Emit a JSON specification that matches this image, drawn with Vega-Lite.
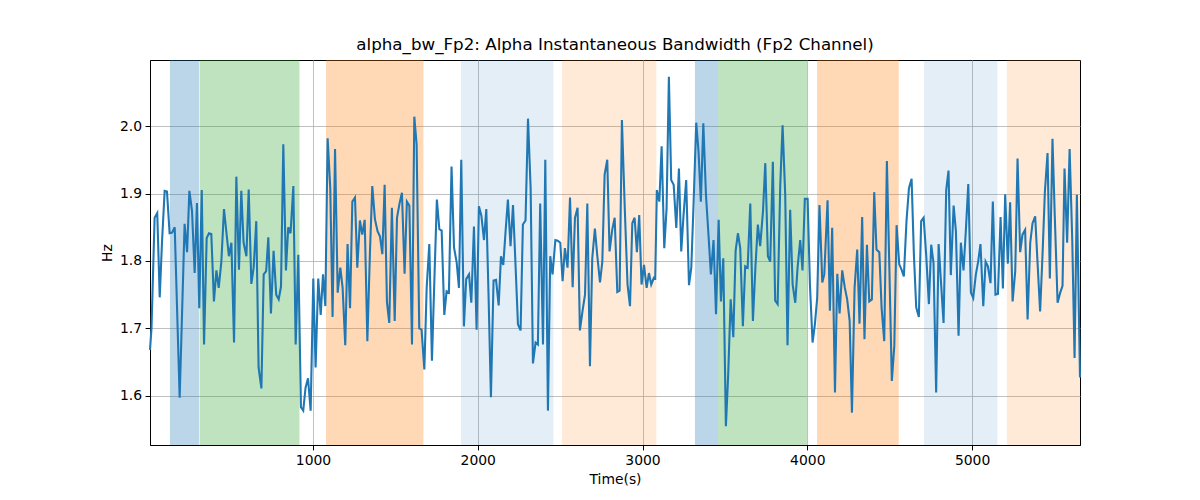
{
  "$schema": "https://vega.github.io/schema/vega-lite/v6.json",
  "autosize": "none",
  "width": 930,
  "height": 385,
  "padding": {"left": 150, "top": 60, "right": 120, "bottom": 55},
  "title": {"text": "alpha_bw_Fp2: Alpha Instantaneous Bandwidth (Fp2 Channel)", "fontSize": 16.7, "fontWeight": "normal", "font": "DejaVu Sans", "color": "black", "offset": 6},
  "datasets": {
    "spans": [
      {"start": 132, "end": 308, "kind": "s1"},
      {"start": 312, "end": 918, "kind": "s2"},
      {"start": 1079, "end": 1670, "kind": "s3"},
      {"start": 1898, "end": 2459, "kind": "s4"},
      {"start": 2511, "end": 3084, "kind": "s5"},
      {"start": 3318, "end": 3459, "kind": "s1"},
      {"start": 3459, "end": 3998, "kind": "s2"},
      {"start": 4059, "end": 4555, "kind": "s3"},
      {"start": 4708, "end": 5154, "kind": "s4"},
      {"start": 5211, "end": 5655, "kind": "s5"}
    ],
    "series": [
      {"t": 11, "v": 1.668}, {"t": 20, "v": 1.70}, {"t": 39, "v": 1.864}, {"t": 55, "v": 1.871}, {"t": 70, "v": 1.746},
      {"t": 84, "v": 1.829}, {"t": 100, "v": 1.904}, {"t": 114, "v": 1.903}, {"t": 130, "v": 1.841}, {"t": 145, "v": 1.842},
      {"t": 161, "v": 1.850}, {"t": 191, "v": 1.597}, {"t": 221, "v": 1.855}, {"t": 236, "v": 1.813}, {"t": 250, "v": 1.904},
      {"t": 266, "v": 1.874}, {"t": 282, "v": 1.782}, {"t": 296, "v": 1.886}, {"t": 310, "v": 1.730}, {"t": 325, "v": 1.905},
      {"t": 339, "v": 1.676}, {"t": 355, "v": 1.834}, {"t": 369, "v": 1.841}, {"t": 383, "v": 1.840}, {"t": 399, "v": 1.740},
      {"t": 414, "v": 1.786}, {"t": 428, "v": 1.760}, {"t": 444, "v": 1.799}, {"t": 460, "v": 1.877}, {"t": 474, "v": 1.844},
      {"t": 490, "v": 1.807}, {"t": 505, "v": 1.827}, {"t": 521, "v": 1.679}, {"t": 535, "v": 1.925}, {"t": 551, "v": 1.787},
      {"t": 565, "v": 1.904}, {"t": 579, "v": 1.827}, {"t": 596, "v": 1.807}, {"t": 610, "v": 1.906}, {"t": 626, "v": 1.766},
      {"t": 640, "v": 1.790}, {"t": 656, "v": 1.859}, {"t": 670, "v": 1.642}, {"t": 687, "v": 1.611}, {"t": 701, "v": 1.780},
      {"t": 716, "v": 1.785}, {"t": 729, "v": 1.835}, {"t": 745, "v": 1.722}, {"t": 761, "v": 1.815}, {"t": 777, "v": 1.750},
      {"t": 792, "v": 1.743}, {"t": 806, "v": 1.762}, {"t": 820, "v": 1.973}, {"t": 836, "v": 1.786}, {"t": 850, "v": 1.850},
      {"t": 864, "v": 1.841}, {"t": 881, "v": 1.911}, {"t": 895, "v": 1.676}, {"t": 911, "v": 1.809}, {"t": 927, "v": 1.583},
      {"t": 941, "v": 1.578}, {"t": 955, "v": 1.612}, {"t": 970, "v": 1.626}, {"t": 986, "v": 1.578}, {"t": 1002, "v": 1.774},
      {"t": 1016, "v": 1.642}, {"t": 1032, "v": 1.774}, {"t": 1047, "v": 1.720}, {"t": 1061, "v": 1.780}, {"t": 1075, "v": 1.733},
      {"t": 1089, "v": 1.982}, {"t": 1105, "v": 1.908}, {"t": 1119, "v": 1.717}, {"t": 1134, "v": 1.966}, {"t": 1150, "v": 1.753},
      {"t": 1166, "v": 1.790}, {"t": 1180, "v": 1.760}, {"t": 1196, "v": 1.675}, {"t": 1210, "v": 1.825}, {"t": 1225, "v": 1.730},
      {"t": 1239, "v": 1.888}, {"t": 1255, "v": 1.894}, {"t": 1269, "v": 1.790}, {"t": 1285, "v": 1.860}, {"t": 1299, "v": 1.839},
      {"t": 1314, "v": 1.861}, {"t": 1330, "v": 1.681}, {"t": 1346, "v": 1.814}, {"t": 1360, "v": 1.911}, {"t": 1376, "v": 1.862},
      {"t": 1392, "v": 1.844}, {"t": 1407, "v": 1.836}, {"t": 1421, "v": 1.810}, {"t": 1435, "v": 1.913}, {"t": 1449, "v": 1.739},
      {"t": 1463, "v": 1.708}, {"t": 1479, "v": 1.879}, {"t": 1496, "v": 1.711}, {"t": 1510, "v": 1.864}, {"t": 1526, "v": 1.886},
      {"t": 1540, "v": 1.901}, {"t": 1556, "v": 1.781}, {"t": 1570, "v": 1.888}, {"t": 1585, "v": 1.882}, {"t": 1601, "v": 1.676},
      {"t": 1615, "v": 2.014}, {"t": 1629, "v": 1.973}, {"t": 1645, "v": 1.700}, {"t": 1659, "v": 1.698}, {"t": 1676, "v": 1.639},
      {"t": 1690, "v": 1.760}, {"t": 1706, "v": 1.825}, {"t": 1722, "v": 1.652}, {"t": 1736, "v": 1.765}, {"t": 1752, "v": 1.891},
      {"t": 1767, "v": 1.847}, {"t": 1781, "v": 1.845}, {"t": 1797, "v": 1.720}, {"t": 1811, "v": 1.755}, {"t": 1825, "v": 1.753},
      {"t": 1841, "v": 1.940}, {"t": 1856, "v": 1.820}, {"t": 1872, "v": 1.798}, {"t": 1886, "v": 1.760}, {"t": 1900, "v": 1.950},
      {"t": 1916, "v": 1.703}, {"t": 1930, "v": 1.773}, {"t": 1947, "v": 1.780}, {"t": 1961, "v": 1.738}, {"t": 1977, "v": 1.851},
      {"t": 1993, "v": 1.698}, {"t": 2007, "v": 1.881}, {"t": 2022, "v": 1.867}, {"t": 2038, "v": 1.831}, {"t": 2052, "v": 1.877},
      {"t": 2066, "v": 1.745}, {"t": 2080, "v": 1.598}, {"t": 2096, "v": 1.771}, {"t": 2111, "v": 1.772}, {"t": 2127, "v": 1.734},
      {"t": 2141, "v": 1.807}, {"t": 2155, "v": 1.794}, {"t": 2169, "v": 1.844}, {"t": 2183, "v": 1.891}, {"t": 2199, "v": 1.822},
      {"t": 2214, "v": 1.883}, {"t": 2230, "v": 1.790}, {"t": 2244, "v": 1.706}, {"t": 2260, "v": 1.697}, {"t": 2274, "v": 1.854},
      {"t": 2290, "v": 1.860}, {"t": 2305, "v": 2.011}, {"t": 2321, "v": 1.908}, {"t": 2335, "v": 1.648}, {"t": 2351, "v": 1.679},
      {"t": 2365, "v": 1.676}, {"t": 2379, "v": 1.885}, {"t": 2396, "v": 1.676}, {"t": 2410, "v": 1.950}, {"t": 2426, "v": 1.578},
      {"t": 2440, "v": 1.807}, {"t": 2454, "v": 1.780}, {"t": 2471, "v": 1.831}, {"t": 2485, "v": 1.830}, {"t": 2501, "v": 1.827},
      {"t": 2515, "v": 1.770}, {"t": 2529, "v": 1.819}, {"t": 2545, "v": 1.790}, {"t": 2560, "v": 1.894}, {"t": 2576, "v": 1.761},
      {"t": 2590, "v": 1.864}, {"t": 2606, "v": 1.879}, {"t": 2620, "v": 1.697}, {"t": 2636, "v": 1.726}, {"t": 2651, "v": 1.750},
      {"t": 2665, "v": 1.885}, {"t": 2681, "v": 1.644}, {"t": 2695, "v": 1.804}, {"t": 2711, "v": 1.848}, {"t": 2725, "v": 1.809},
      {"t": 2742, "v": 1.768}, {"t": 2756, "v": 1.799}, {"t": 2770, "v": 1.928}, {"t": 2786, "v": 1.950}, {"t": 2800, "v": 1.814},
      {"t": 2816, "v": 1.846}, {"t": 2831, "v": 1.864}, {"t": 2847, "v": 1.754}, {"t": 2861, "v": 1.756}, {"t": 2875, "v": 2.009},
      {"t": 2892, "v": 1.880}, {"t": 2909, "v": 1.765}, {"t": 2924, "v": 1.733}, {"t": 2938, "v": 1.856}, {"t": 2952, "v": 1.864},
      {"t": 2966, "v": 1.813}, {"t": 2980, "v": 1.868}, {"t": 2994, "v": 1.765}, {"t": 3009, "v": 1.794}, {"t": 3025, "v": 1.760},
      {"t": 3039, "v": 1.782}, {"t": 3053, "v": 1.765}, {"t": 3069, "v": 1.775}, {"t": 3077, "v": 1.774}, {"t": 3087, "v": 1.905},
      {"t": 3102, "v": 1.888}, {"t": 3116, "v": 1.970}, {"t": 3132, "v": 1.819}, {"t": 3146, "v": 1.878}, {"t": 3160, "v": 2.073},
      {"t": 3174, "v": 1.920}, {"t": 3189, "v": 1.913}, {"t": 3205, "v": 1.849}, {"t": 3221, "v": 1.937}, {"t": 3235, "v": 1.814},
      {"t": 3249, "v": 1.868}, {"t": 3265, "v": 1.920}, {"t": 3282, "v": 1.764}, {"t": 3296, "v": 1.790}, {"t": 3310, "v": 1.886},
      {"t": 3326, "v": 2.005}, {"t": 3340, "v": 1.962}, {"t": 3354, "v": 1.888}, {"t": 3369, "v": 2.004}, {"t": 3385, "v": 1.898},
      {"t": 3399, "v": 1.844}, {"t": 3415, "v": 1.780}, {"t": 3431, "v": 1.831}, {"t": 3446, "v": 1.721}, {"t": 3462, "v": 1.861},
      {"t": 3476, "v": 1.740}, {"t": 3490, "v": 1.804}, {"t": 3506, "v": 1.555}, {"t": 3520, "v": 1.632}, {"t": 3535, "v": 1.743},
      {"t": 3551, "v": 1.687}, {"t": 3565, "v": 1.815}, {"t": 3579, "v": 1.841}, {"t": 3593, "v": 1.819}, {"t": 3609, "v": 1.703},
      {"t": 3623, "v": 1.792}, {"t": 3638, "v": 1.790}, {"t": 3654, "v": 1.885}, {"t": 3670, "v": 1.711}, {"t": 3685, "v": 1.790},
      {"t": 3700, "v": 1.854}, {"t": 3714, "v": 1.822}, {"t": 3731, "v": 1.873}, {"t": 3745, "v": 1.945}, {"t": 3761, "v": 1.807},
      {"t": 3775, "v": 1.799}, {"t": 3791, "v": 1.947}, {"t": 3805, "v": 1.741}, {"t": 3820, "v": 1.736}, {"t": 3836, "v": 1.913},
      {"t": 3850, "v": 2.001}, {"t": 3866, "v": 1.898}, {"t": 3880, "v": 1.675}, {"t": 3896, "v": 1.876}, {"t": 3911, "v": 1.765},
      {"t": 3927, "v": 1.738}, {"t": 3941, "v": 1.790}, {"t": 3957, "v": 1.831}, {"t": 3971, "v": 1.786}, {"t": 3985, "v": 1.892},
      {"t": 4002, "v": 1.892}, {"t": 4016, "v": 1.765}, {"t": 4032, "v": 1.679}, {"t": 4046, "v": 1.706}, {"t": 4060, "v": 1.745},
      {"t": 4074, "v": 1.883}, {"t": 4091, "v": 1.768}, {"t": 4103, "v": 1.780}, {"t": 4123, "v": 1.890}, {"t": 4137, "v": 1.726},
      {"t": 4151, "v": 1.849}, {"t": 4168, "v": 1.605}, {"t": 4182, "v": 1.781}, {"t": 4196, "v": 1.722}, {"t": 4212, "v": 1.786},
      {"t": 4228, "v": 1.760}, {"t": 4242, "v": 1.743}, {"t": 4257, "v": 1.711}, {"t": 4271, "v": 1.575}, {"t": 4287, "v": 1.760},
      {"t": 4303, "v": 1.817}, {"t": 4317, "v": 1.707}, {"t": 4333, "v": 1.865}, {"t": 4347, "v": 1.684}, {"t": 4362, "v": 1.824},
      {"t": 4376, "v": 1.740}, {"t": 4392, "v": 1.743}, {"t": 4406, "v": 1.902}, {"t": 4420, "v": 1.817}, {"t": 4437, "v": 1.813},
      {"t": 4451, "v": 1.730}, {"t": 4467, "v": 1.681}, {"t": 4483, "v": 1.948}, {"t": 4498, "v": 1.790}, {"t": 4513, "v": 1.622},
      {"t": 4528, "v": 1.674}, {"t": 4542, "v": 1.853}, {"t": 4558, "v": 1.795}, {"t": 4572, "v": 1.787}, {"t": 4586, "v": 1.777},
      {"t": 4602, "v": 1.859}, {"t": 4617, "v": 1.908}, {"t": 4633, "v": 1.922}, {"t": 4647, "v": 1.809}, {"t": 4661, "v": 1.731},
      {"t": 4677, "v": 1.717}, {"t": 4691, "v": 1.859}, {"t": 4706, "v": 1.864}, {"t": 4722, "v": 1.807}, {"t": 4738, "v": 1.736},
      {"t": 4752, "v": 1.824}, {"t": 4766, "v": 1.797}, {"t": 4782, "v": 1.605}, {"t": 4797, "v": 1.825}, {"t": 4811, "v": 1.770},
      {"t": 4827, "v": 1.708}, {"t": 4843, "v": 1.905}, {"t": 4857, "v": 1.934}, {"t": 4871, "v": 1.779}, {"t": 4888, "v": 1.882},
      {"t": 4902, "v": 1.844}, {"t": 4918, "v": 1.689}, {"t": 4932, "v": 1.827}, {"t": 4948, "v": 1.786}, {"t": 4962, "v": 1.844},
      {"t": 4977, "v": 1.914}, {"t": 4993, "v": 1.753}, {"t": 5007, "v": 1.745}, {"t": 5023, "v": 1.780}, {"t": 5037, "v": 1.799},
      {"t": 5051, "v": 1.825}, {"t": 5068, "v": 1.733}, {"t": 5082, "v": 1.799}, {"t": 5096, "v": 1.792}, {"t": 5112, "v": 1.767},
      {"t": 5126, "v": 1.888}, {"t": 5142, "v": 1.750}, {"t": 5157, "v": 1.751}, {"t": 5173, "v": 1.865}, {"t": 5187, "v": 1.759},
      {"t": 5201, "v": 1.899}, {"t": 5217, "v": 1.796}, {"t": 5231, "v": 1.887}, {"t": 5246, "v": 1.740}, {"t": 5262, "v": 1.785},
      {"t": 5276, "v": 1.952}, {"t": 5292, "v": 1.813}, {"t": 5306, "v": 1.839}, {"t": 5322, "v": 1.846}, {"t": 5337, "v": 1.713},
      {"t": 5353, "v": 1.827}, {"t": 5367, "v": 1.856}, {"t": 5383, "v": 1.866}, {"t": 5397, "v": 1.799}, {"t": 5413, "v": 1.725},
      {"t": 5428, "v": 1.812}, {"t": 5442, "v": 1.903}, {"t": 5458, "v": 1.960}, {"t": 5472, "v": 1.774}, {"t": 5488, "v": 1.981},
      {"t": 5502, "v": 1.866}, {"t": 5519, "v": 1.738}, {"t": 5535, "v": 1.753}, {"t": 5549, "v": 1.763}, {"t": 5561, "v": 1.937},
      {"t": 5577, "v": 1.827}, {"t": 5592, "v": 1.966}, {"t": 5608, "v": 1.831}, {"t": 5622, "v": 1.656}, {"t": 5636, "v": 1.898},
      {"t": 5655, "v": 1.627}
    ]
  },
  "layer": [
    {
      "data": {"name": "spans"},
      "transform": [{"filter": "datum.kind === 's1' || datum.kind === 's2' || datum.kind === 's3'"}],
      "mark": {"type": "rect", "opacity": 0.3},
      "encoding": {
        "x": {"field": "start", "type": "quantitative"},
        "x2": {"field": "end"},
        "color": {"field": "kind", "type": "nominal", "legend": null,
          "scale": {"domain": ["s1", "s2", "s3", "s4", "s5"], "range": ["#1f77b4", "#2ca02c", "#ff7f0e", "#1f77b4", "#ff7f0e"]}}
      }
    },
    {
      "data": {"name": "spans"},
      "transform": [{"filter": "datum.kind === 's4'"}],
      "mark": {"type": "rect", "opacity": 0.12},
      "encoding": {
        "x": {"field": "start", "type": "quantitative"},
        "x2": {"field": "end"},
        "color": {"field": "kind", "type": "nominal", "legend": null}
      }
    },
    {
      "data": {"name": "spans"},
      "transform": [{"filter": "datum.kind === 's5'"}],
      "mark": {"type": "rect", "opacity": 0.16},
      "encoding": {
        "x": {"field": "start", "type": "quantitative"},
        "x2": {"field": "end"},
        "color": {"field": "kind", "type": "nominal", "legend": null}
      }
    },
    {
      "data": {"name": "series"},
      "mark": {"type": "line", "color": "#1f77b4", "strokeWidth": 2.08},
      "encoding": {
        "x": {"field": "t", "type": "quantitative", "title": "Time(s)",
          "scale": {"domain": [11, 5655], "nice": false, "zero": false},
          "axis": {"values": [1000, 2000, 3000, 4000, 5000], "format": "d"}},
        "y": {"field": "v", "type": "quantitative", "title": "Hz",
          "scale": {"domain": [1.527, 2.098], "nice": false, "zero": false},
          "axis": {"values": [1.6, 1.7, 1.8, 1.9, 2.0], "format": ".1f"}}
      }
    }
  ],
  "config": {
    "font": "DejaVu Sans",
    "view": {"stroke": "black", "strokeWidth": 1},
    "axis": {
      "labelFont": "DejaVu Sans", "labelFontSize": 13.9, "labelColor": "black",
      "titleFont": "DejaVu Sans", "titleFontSize": 13.9, "titleFontWeight": "normal", "titleColor": "black",
      "tickColor": "black", "tickSize": 4.9, "tickWidth": 1, "labelPadding": 3.5,
      "domainColor": "black", "gridColor": "#b0b0b0", "gridWidth": 0.8, "titlePadding": 5
    }
  }
}
